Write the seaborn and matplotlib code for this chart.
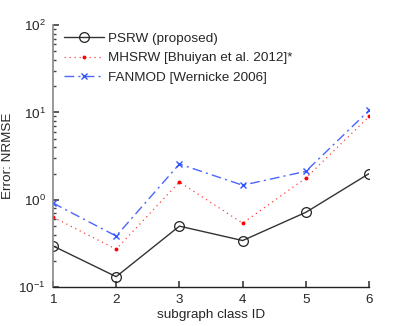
import matplotlib
matplotlib.use("Agg")
import matplotlib.pyplot as plt
import matplotlib.ticker as mticker
import seaborn as sns

# data
class_ids = [1, 2, 3, 4, 5, 6]
psrw = [0.297, 0.132, 0.50, 0.342, 0.72, 2.0]
mhsrw = [0.635, 0.272, 1.60, 0.54, 1.78, 9.0]
fanmod = [0.92, 0.385, 2.57, 1.47, 2.12, 10.6]

labels = ["PSRW (proposed)", "MHSRW [Bhuiyan et al. 2012]*", "FANMOD [Wernicke 2006]"]

FS = 9.7

sns.set_theme(style="ticks")
plt.rcParams["font.family"] = ["Liberation Sans", "DejaVu Sans"]

fig = plt.figure(figsize=(4.07, 3.26), dpi=100)
ax = fig.add_axes([0.130, 0.119, 0.777, 0.804])

sns.lineplot(x=class_ids, y=psrw, ax=ax, color="#333333", linestyle="-",
             linewidth=1.0, marker="o", markersize=7, markerfacecolor="none",
             markeredgecolor="#222222", markeredgewidth=0.9, label=labels[0])
sns.lineplot(x=class_ids, y=mhsrw, ax=ax, color="#ff4040", linestyle=(0, (1, 3)),
             linewidth=0.9, marker="o", markersize=2.8, markeredgewidth=0,
             markerfacecolor="#ff0000", label=labels[1])
sns.lineplot(x=class_ids, y=fanmod, ax=ax, color="#4a66ff", linestyle=(0, (7, 3, 1.5, 3)),
             linewidth=1.0, marker="x", markersize=5, markeredgewidth=1.0,
             markeredgecolor="#3355ff", label=labels[2])

ax.set_yscale("log")
ax.set_ylim(0.1, 100)
ax.set_xlim(1, 6)
ax.set_xticks(class_ids)
ax.yaxis.set_major_locator(mticker.LogLocator(base=10))
ax.yaxis.set_minor_locator(mticker.LogLocator(base=10, subs=range(2, 10)))
ax.yaxis.set_minor_formatter(mticker.NullFormatter())

ax.set_xlabel("subgraph class ID", fontsize=FS, labelpad=2)
ax.set_ylabel("Error: NRMSE", fontsize=FS, labelpad=3)
ax.tick_params(axis="both", which="both", direction="in", labelsize=FS,
               color="#444444")
ax.tick_params(axis="both", which="major", length=4, pad=5)
ax.tick_params(axis="y", which="minor", length=2)

sns.despine(ax=ax)
ax.spines["left"].set_color("#888888")
ax.spines["left"].set_linewidth(1.2)
ax.spines["bottom"].set_color("#222222")
ax.spines["bottom"].set_linewidth(1.0)

ax.legend(loc="upper left", frameon=False, fontsize=FS, handlelength=3.0,
          handletextpad=0.3, labelspacing=0.53, borderaxespad=0, borderpad=0,
          bbox_to_anchor=(0.035, 0.972))

fig.savefig("out.png", dpi=100)
